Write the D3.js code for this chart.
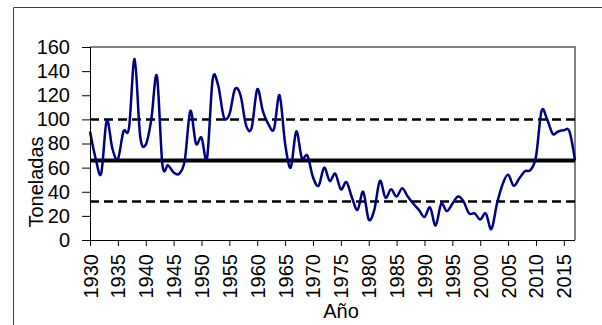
<!DOCTYPE html>
<html>
<head>
<meta charset="utf-8">
<script src="https://cdn.jsdelivr.net/npm/d3@7"></script>
<style>
  html, body { margin: 0; padding: 0; background: #fff; }
  svg { display: block; }
  text { font-family: "Liberation Sans", Arial, sans-serif; fill: #000; }
</style>
</head>
<body>
<svg id="chart" width="602" height="325"></svg>
<script>
// ---- data ----
const startYear = 1930;
const values = [
  90, 68, 55, 99, 76, 67, 90, 93, 150, 86,     // 1930-1939
  79, 100, 136, 62, 62, 56, 55, 66, 107, 80,   // 1940-1949
  85, 68, 133, 128, 102, 104, 125, 120, 95, 93,// 1950-1959
  125, 107, 96, 92, 120, 80, 60, 90, 68, 70,   // 1960-1969
  52, 45, 60, 49, 55, 42, 48, 35, 25, 40,      // 1970-1979
  17, 25, 49, 35, 42, 36, 43, 36, 30, 25,      // 1980-1989
  19, 27, 12, 30, 24, 30, 36, 32, 22, 22,      // 1990-1999
  17, 22, 9, 30, 46, 54, 45, 51, 57, 58,       // 2000-2009
  69, 107, 100, 88, 90, 91, 90, 66             // 2010-2017
];
const years = values.map((v, i) => startYear + i);
const meanValue = [66];
const bandValues = [100, 32];
const yTicks = [0, 20, 40, 60, 80, 100, 120, 140, 160];
const xTicks = [1930, 1935, 1940, 1945, 1950, 1955, 1960, 1965, 1970, 1975,
                1980, 1985, 1990, 1995, 2000, 2005, 2010, 2015];
const yLabel = "Toneladas";
const xLabel = "Año";

// ---- layout ----
const L = 90, R = 575, T = 47, B = 240;
const svg = d3.select("#chart");

const x = d3.scaleLinear().domain([years[0], years[years.length - 1]]).range([L, R]);
const y = d3.scaleLinear().domain([0, 160]).range([B, T]);

// outer frame (cut by the window at right and bottom)
svg.append("path")
  .attr("d", `M13.5,330 V7.5 H610`)
  .attr("fill", "none").attr("stroke", "#404040").attr("stroke-width", 1);

// plot-area border (top & right grey)
svg.append("path")
  .attr("d", `M${L},${T} H${R} V${B}`)
  .attr("fill", "none").attr("stroke", "#808080").attr("stroke-width", 2);

// reference lines
svg.append("line")
  .attr("x1", L).attr("x2", R)
  .attr("y1", y(meanValue[0])).attr("y2", y(meanValue[0]))
  .attr("stroke", "#000").attr("stroke-width", 4);
bandValues.forEach(v => {
  svg.append("line")
    .attr("x1", L).attr("x2", R)
    .attr("y1", y(v)).attr("y2", y(v))
    .attr("stroke", "#000").attr("stroke-width", 2.5)
    .attr("stroke-dasharray", "9,5");
});

// series line
const line = d3.line()
  .x((d, i) => x(years[i]))
  .y(d => y(d))
  .curve(d3.curveCardinal.tension(0));
svg.append("path")
  .datum(values)
  .attr("d", line)
  .attr("fill", "none")
  .attr("stroke", "#000080")
  .attr("stroke-width", 2.5)
  .attr("stroke-linejoin", "round");

// y axis
const yAxis = d3.axisLeft(y).tickValues(yTicks).tickSize(8).tickPadding(12).tickFormat(d3.format("d"));
const gy = svg.append("g").attr("transform", `translate(${L},0)`).call(yAxis);
gy.select(".domain").attr("stroke", "#000").attr("d", `M0.5,${T}V${B}`);
gy.selectAll(".tick line").attr("stroke", "#000");
gy.selectAll(".tick text")
  .style("font-family", '"Liberation Sans", Arial, sans-serif')
  .style("font-size", "20px")
  .attr("fill", "#000");

// x axis
const xAxis = d3.axisBottom(x).tickValues(xTicks).tickSize(6).tickFormat(d3.format("d"));
const gx = svg.append("g").attr("transform", `translate(0,${B})`).call(xAxis);
gx.select(".domain").attr("stroke", "#000").attr("d", `M${L},0.5H${R}`);
gx.selectAll(".tick line").attr("stroke", "#000");
gx.selectAll(".tick text")
  .style("font-family", '"Liberation Sans", Arial, sans-serif')
  .style("font-size", "20px")
  .attr("fill", "#000")
  .attr("text-anchor", "end")
  .attr("transform", "translate(0,14) rotate(-90)")
  .attr("x", 0).attr("y", 0)
  .attr("dy", "0.35em");

// axis titles
svg.append("text")
  .attr("transform", `translate(43,182) rotate(-90)`)
  .attr("text-anchor", "middle")
  .style("font-size", "20px")
  .text(yLabel);
svg.append("text")
  .attr("x", 341).attr("y", 318)
  .attr("text-anchor", "middle")
  .style("font-size", "20px")
  .text(xLabel);
</script>
</body>
</html>
